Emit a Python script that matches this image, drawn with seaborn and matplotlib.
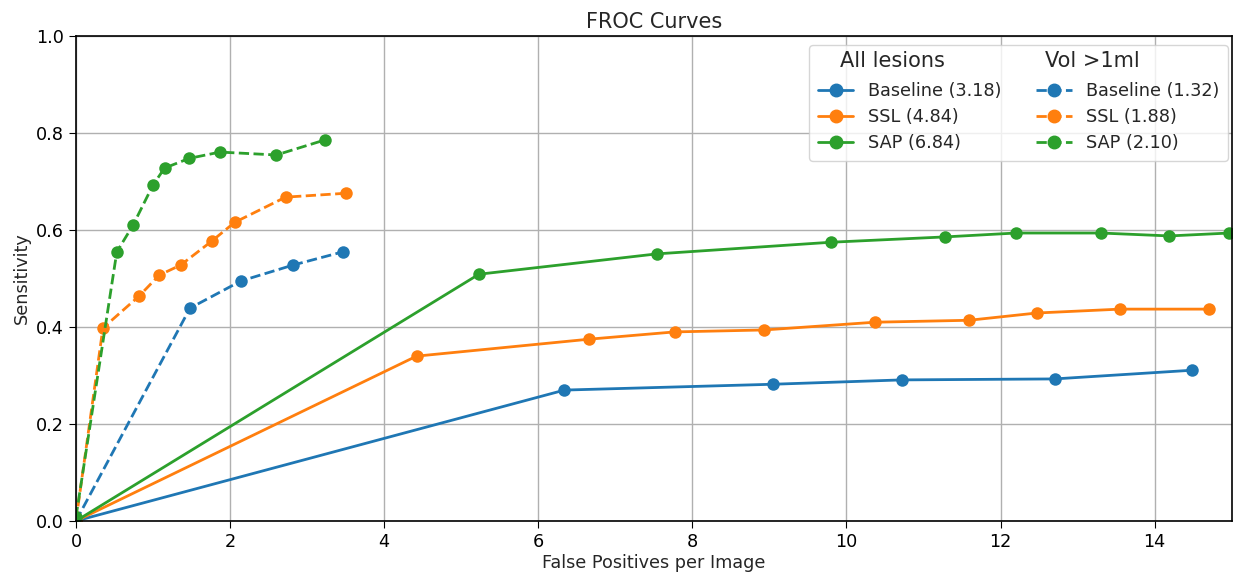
import pandas as pd
import matplotlib.pyplot as plt
import matplotlib.transforms as mtrans
import seaborn as sns
from matplotlib.lines import Line2D

# ---- dati ----
models = ['Baseline', 'SSL', 'SAP']
colors = ['#1f77b4', '#ff7f0e', '#2ca02c']

# All lesions (linea continua)
base_all_fp = [0.0, 6.34, 9.04, 10.72, 12.70, 14.49]
base_all_sens = [0.0, 0.270, 0.282, 0.291, 0.293, 0.311]
ssl_all_fp = [0.0, 4.42, 6.66, 7.77, 8.93, 10.37, 11.59, 12.47, 13.55, 14.71]
ssl_all_sens = [0.0, 0.340, 0.375, 0.390, 0.394, 0.410, 0.414, 0.429, 0.437, 0.437]
sap_all_fp = [0.0, 5.23, 7.54, 9.80, 11.28, 12.20, 13.30, 14.19, 14.97]
sap_all_sens = [0.0, 0.509, 0.551, 0.575, 0.586, 0.594, 0.594, 0.588, 0.594]

# Vol > 1ml (linea tratteggiata)
base_vol_fp = [0.0, 1.48, 2.14, 2.82, 3.46]
base_vol_sens = [0.0, 0.439, 0.495, 0.528, 0.555]
ssl_vol_fp = [0.0, 0.35, 0.82, 1.08, 1.36, 1.76, 2.06, 2.72, 3.50]
ssl_vol_sens = [0.0, 0.398, 0.464, 0.507, 0.528, 0.577, 0.616, 0.668, 0.676]
sap_vol_fp = [0.0, 0.53, 0.74, 1.00, 1.15, 1.47, 1.87, 2.60, 3.23]
sap_vol_sens = [0.008, 0.555, 0.610, 0.693, 0.728, 0.748, 0.761, 0.755, 0.786]

all_scores = ['3.18', '4.84', '6.84']
vol_scores = ['1.32', '1.88', '2.10']

all_curves = [(base_all_fp, base_all_sens), (ssl_all_fp, ssl_all_sens), (sap_all_fp, sap_all_sens)]
vol_curves = [(base_vol_fp, base_vol_sens), (ssl_vol_fp, ssl_vol_sens), (sap_vol_fp, sap_vol_sens)]

sns.set_style("ticks")
plt.rcParams['font.family'] = ['DejaVu Sans']

fig, ax = plt.subplots(figsize=(12.33, 5.75), dpi=100)
fig.subplots_adjust(left=0.0616, right=0.999, top=0.937, bottom=0.094)

for (fp, sens), c in zip(all_curves, colors):
    sns.lineplot(x=fp, y=sens, ax=ax, color=c, marker='o', markersize=9,
                 markeredgewidth=0, linewidth=2, sort=False)
for (fp, sens), c in zip(vol_curves, colors):
    sns.lineplot(x=fp, y=sens, ax=ax, color=c, marker='o', markersize=9,
                 markeredgewidth=0, linewidth=2, linestyle='--', sort=False)

ax.set_xlim(0, 15)
ax.set_ylim(0, 1.0)
ax.grid(True, color='#b0b0b0', linewidth=1)
ax.set_xlabel("False Positives per Image", fontsize=12.7, labelpad=2)
ax.set_ylabel("Sensitivity", fontsize=12.7)
ax.set_title("FROC Curves", fontsize=15)
ax.tick_params(labelsize=12.7, length=5, colors='black')
for s in ax.spines.values():
    s.set_linewidth(1.2)
    s.set_color('black')

# legenda a due colonne con titoli
blank = Line2D([], [], linestyle='none', marker=None)
handles = [blank]
labels = ['All lesions']
for m, c, sc in zip(models, colors, all_scores):
    handles.append(Line2D([], [], color=c, marker='o', markersize=9, linewidth=2))
    labels.append(f"{m} ({sc})")
handles.append(blank)
labels.append('Vol >1ml')
for m, c, sc in zip(models, colors, vol_scores):
    handles.append(Line2D([], [], color=c, marker='o', markersize=9, linewidth=2, linestyle='--'))
    labels.append(f"{m} ({sc})")

leg = ax.legend(handles, labels, ncol=2, loc='upper right', fontsize=12.7,
                frameon=True, columnspacing=2.0, handlelength=2.0,
                bbox_to_anchor=(0.9965, 0.9814), borderaxespad=0,
                labelspacing=0.45, borderpad=0.5)
# titoli spostati a sinistra (in pixel)
shifts = {'All lesions': (-28, 3), 'Vol >1ml': (-41, 3)}
for t in leg.get_texts():
    if t.get_text() in shifts:
        t.set_fontsize(15)
        dx, dy = shifts[t.get_text()]
        off = mtrans.ScaledTranslation(dx / 100, dy / 100, fig.dpi_scale_trans)
        t.set_transform(t.get_transform() + off)

plt.savefig("out.png", dpi=100)
plt.close()
